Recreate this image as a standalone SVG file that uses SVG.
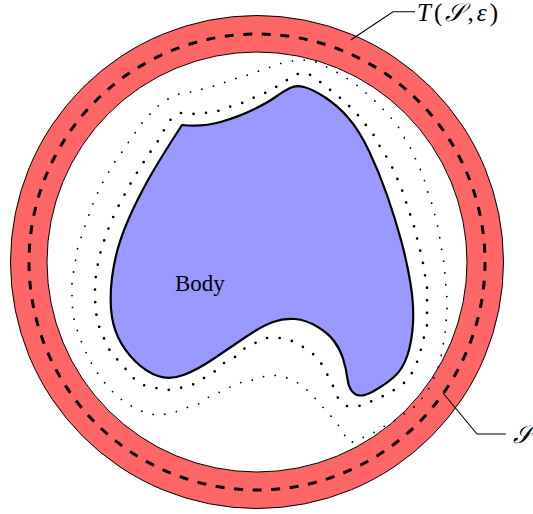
<svg xmlns="http://www.w3.org/2000/svg" width="533" height="514" viewBox="0 0 533 514">
<style>
.ring{fill:#ff6666;stroke:#000;stroke-width:1}
.inner{fill:#fff;stroke:#000;stroke-width:1}
.dash{fill:none;stroke:#000;stroke-width:3;stroke-dasharray:9 9.6}
.body{fill:#9999ff;stroke:#000;stroke-width:2.2;stroke-linejoin:round}
.dots1{fill:none;stroke:#000;stroke-width:2.7;stroke-linecap:round;stroke-dasharray:0 1}
.dots2{fill:none;stroke:#000;stroke-width:1.8;stroke-linecap:round;stroke-dasharray:0 1}
.lead{fill:none;stroke:#000;stroke-width:1.1}
.lbl{font-family:"Liberation Serif","DejaVu Serif",serif;font-size:23px;fill:#000}
</style>
<rect width="533" height="514" fill="#fff"/>
<g id="tube">
<circle class="ring" cx="257" cy="262" r="246.5"/>
<circle class="inner" cx="257" cy="262" r="210"/>
<circle class="dash" cx="257" cy="262" r="228"/>
</g>
<g id="offsets">
<path class="dots2" pathLength="105" d="M142,123 L150,114 158,106 168,99 179,94 191,92 203,89 214,86 226,82 237,78 248,75 259,71 271,67 282,63 293,61 305,60 316,62 327,67 338,73 348,79 358,86 367,94 376,102 384,110 392,119 399,128 405,139 411,149 416,160 421,171 425,182 428,193 432,204 435,216 438,228 440,239 442,252 444,263 445,275 446,287 447,298 447,310 446,322 445,334 443,346 441,357 438,368 433,380 428,390 421,400 413,408 404,414 394,421 383,427 373,433 362,438 350,443 343,433 337,423 329,414 321,405 313,396 305,388 295,381 284,377 273,375 261,377 250,381 238,383 228,388 218,393 207,398 197,405 185,408 173,413 160,415 148,414 137,409 126,403 117,396 108,387 101,378 94,368 88,357 83,346 79,335 75,324 73,313 72,302 72,291 72,281 74,269 76,258 78,246 82,235 86,223 90,212 94,201 99,190 104,180 110,170 116,160 122,152 128,143 135,133 Z"/>
<path class="dots1" pathLength="89" d="M181,113 L193,114 205,113 218,111 229,107 242,103 253,98 265,93 276,87 287,80 297,74 309,74 319,81 329,89 339,97 348,105 357,114 365,124 373,134 379,145 386,156 392,167 397,178 402,190 406,202 410,214 414,226 417,238 420,250 423,263 425,275 427,287 427,300 427,313 427,325 424,337 421,349 417,362 412,373 404,383 394,390 383,396 372,401 359,406 347,406 338,398 333,386 327,374 321,363 313,354 303,347 292,341 280,338 267,338 255,343 245,348 235,357 224,363 214,372 204,378 192,385 180,388 168,390 156,388 143,385 132,377 124,367 116,358 108,348 103,336 98,324 96,312 95,299 95,287 96,274 98,263 101,250 105,238 109,227 114,215 120,203 126,192 132,181 138,171 145,160 151,151 158,141 164,130 171,119 Z"/>
</g>
<g id="body">
<path class="body" d="M182,125 Q203,127 220.5,122 Q238,117 252.5,110 Q267,103 275.5,97 Q284,91 290,88 Q296,85 304,87 Q312,89 324.5,97 Q337,105 348,117.5 Q359,130 369,151 Q379,172 387,195 Q395,218 401,240 Q407,262 410.5,283.5 Q414,305 413,323 Q412,341 407.5,355 Q403,369 394,377 Q385,385 373,391.5 Q361,398 355,394 Q349,390 347.5,379 Q346,368 343,358.5 Q340,349 334,341 Q328,333 317,326.5 Q306,320 295,319 Q284,318 273,322 Q262,326 246.5,336.5 Q231,347 214,358.5 Q197,370 183.5,375 Q170,380 158,376 Q146,372 135,361 Q124,350 118,337 Q112,324 111,308.5 Q110,293 112,277.5 Q114,262 118,248 Q122,234 129.5,217 Q137,200 147.5,181 Q158,162 182,125 Z"/>
<text class="lbl" x="175" y="291">Body</text>
</g>
<g id="connectors">
<polyline class="lead" points="350.7,40 393,11.7 415,11.7"/>
<polyline class="lead" points="443,393 477,434 506,434"/>
</g>
<g id="label-tube">
<text class="lbl" x="417" y="21" font-size="25" textLength="81" lengthAdjust="spacing" style="font-size:25px"><tspan font-style="italic">T</tspan>(<tspan font-style="italic">𝒮</tspan>,<tspan font-style="italic">ε</tspan>)</text>
</g>
<g id="label-surface">
<text class="lbl" x="513" y="443" font-style="italic" style="font-size:25px">𝒮</text>
</g>
</svg>
